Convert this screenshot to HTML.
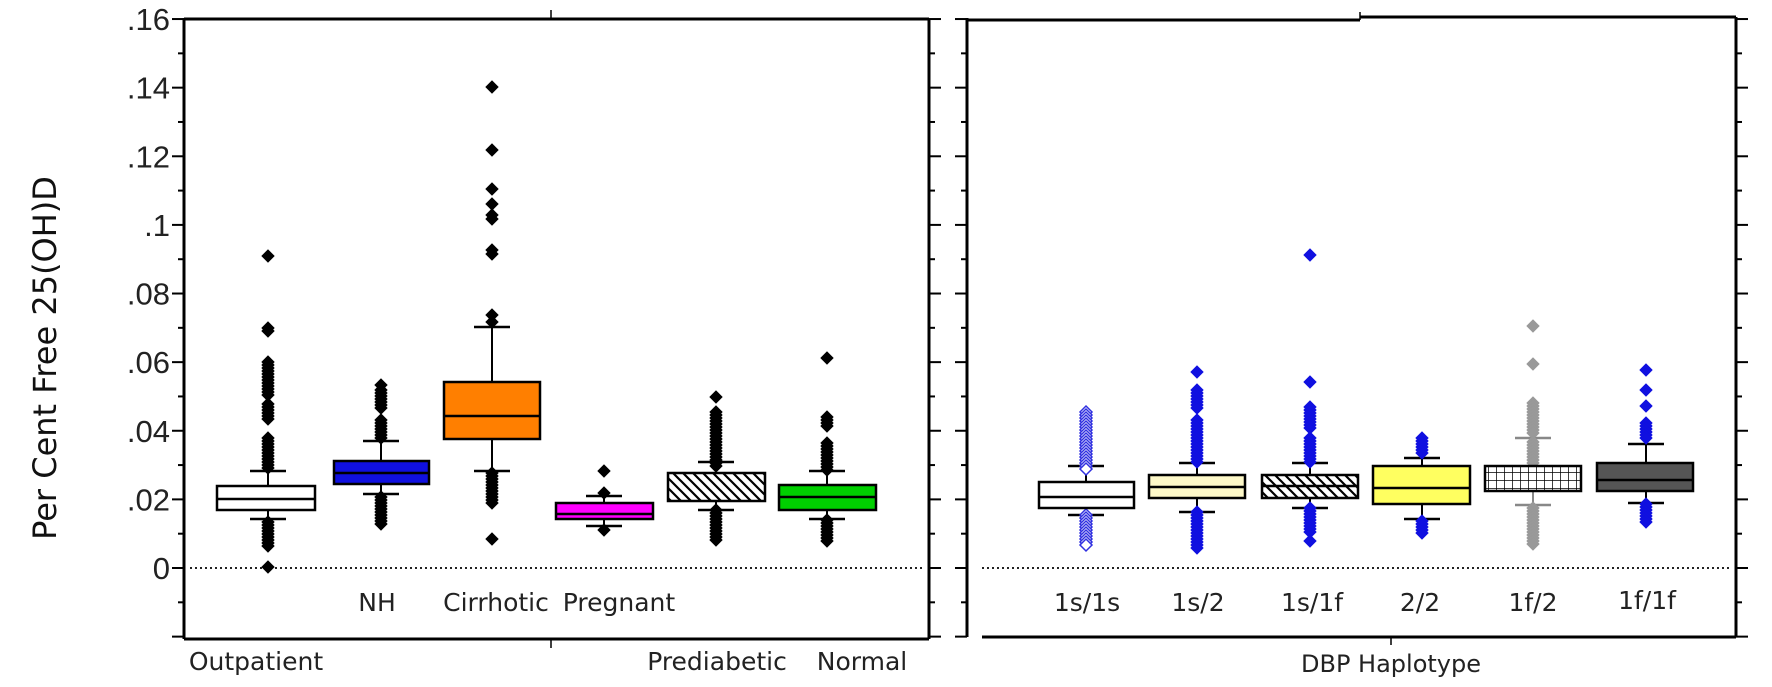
<!DOCTYPE html>
<html><head><meta charset="utf-8">
<style>
html,body{margin:0;padding:0;background:#fff;}
svg{display:block;}
</style></head><body>
<svg id="s" width="1772" height="687" xmlns="http://www.w3.org/2000/svg">
<defs>
<pattern id="diag" width="10" height="10" patternUnits="userSpaceOnUse">
<rect width="10" height="10" fill="#fff"/>
<path d="M0,0 L10,10 M-5,5 L5,15 M5,-5 L15,5" stroke="#000" stroke-width="2.2"/>
</pattern>
<pattern id="grid" width="8" height="8" patternUnits="userSpaceOnUse">
<rect width="8" height="8" fill="#fff"/>
<path d="M0,0 H8 M0,0 V8" stroke="#000" stroke-width="1.5"/>
</pattern>
</defs>
<g id="g"></g>
<text transform="translate(56,358) rotate(-90)" font-family="DejaVu Sans, sans-serif" font-size="32" text-anchor="middle" fill="#111">Per Cent Free 25(OH)D</text>
<g font-family="DejaVu Sans, sans-serif" font-size="25" fill="#222" text-anchor="middle">
<text x="377" y="611">NH</text>
<text x="496" y="611">Cirrhotic</text>
<text x="619" y="611">Pregnant</text>
<text x="256" y="670">Outpatient</text>
<text x="717" y="670">Prediabetic</text>
<text x="862" y="670">Normal</text>
<text x="1087" y="611">1s/1s</text>
<text x="1198" y="611">1s/2</text>
<text x="1312" y="611">1s/1f</text>
<text x="1420" y="611">2/2</text>
<text x="1533" y="611">1f/2</text>
<text x="1647" y="609">1f/1f</text>
<text x="1391" y="672" font-size="24">DBP Haplotype</text>
</g>
</svg>
<script>
var g=document.getElementById('g');var NS='http://www.w3.org/2000/svg';
function el(t,a){var e=document.createElementNS(NS,t);for(var k in a)e.setAttribute(k,a[k]);g.appendChild(e);return e;}
function line(x1,y1,x2,y2,w,c,d){var a={x1:x1,y1:y1,x2:x2,y2:y2,stroke:c||'#000','stroke-width':w||2};if(d)a['stroke-dasharray']=d;el('line',a);}
function Y(v){return 568-v*3431;}
var L0=184,R0=929,L1=967,R1=1736,TOP=19,BOT=639;
line(L0,TOP,R0,TOP,3);line(L0,TOP-1,L0,BOT,3);line(L0,BOT,R0,BOT,3);line(R0,TOP,R0,BOT,3);
line(551,TOP,551,10,1.5);line(551,BOT,551,648,1.5);
line(L1,TOP+1,1360,TOP+1,3);line(1360,TOP-2,R1,TOP-2,3);line(1360,12,1360,TOP+1,1.5);
line(L1,TOP-1,L1,BOT-2,3);line(982,BOT-2,R1,BOT-2,3);line(R1,TOP-2,R1,BOT-2,3);line(1391,BOT-2,1391,BOT+6,1.5);
var labs=['0','.02','.04','.06','.08','.1','.12','.14','.16'];
for(var i=-2;i<=16;i++){var y=Y(i*0.01);var maj=i%2==0;var L=maj?12:6;
 line(L0-L,y,L0,y,2);line(R0,y,R0+L,y,2);line(L1-L,y,L1,y,2);line(R1,y,R1+L,y,2);
 if(maj&&i>=0){var t=document.createElementNS(NS,'text');t.setAttribute('x',170);t.setAttribute('y',y+11);t.setAttribute('font-family','Liberation Sans, Arial, sans-serif');t.setAttribute('font-size','31');t.setAttribute('text-anchor','end');t.setAttribute('fill','#222');t.textContent=labs[i/2];document.getElementById('s').appendChild(t);}}
line(190,568,924,568,2,'#222','2,3');line(982,568,1730,568,2,'#222','2,3');
function dia(x,y,c,s,h){s=s||6;el('path',{d:'M'+x+','+(y-s)+'L'+(x+s)+','+y+'L'+x+','+(y+s)+'L'+(x-s)+','+y+'Z',fill:h?'#fff':c,stroke:c,'stroke-width':h?1.5:1});}
function run(x,a,b,c,h){for(var y=a;y<=b;y+=3)dia(x,y,c,6,h);}
function box(b){var c=b.oc||'#000';var wc=b.wc||'#000';
 line(b.c,b.wt,b.c,b.t,2,wc);line(b.c,b.b,b.c,b.wb,2,wc);line(b.c-18,b.wt,b.c+18,b.wt,2.5,wc);line(b.c-18,b.wb,b.c+18,b.wb,2.5,wc);
 (b.pts||[]).forEach(function(p){dia(b.c,p,c,6,b.h);});(b.runs||[]).forEach(function(r){run(b.c,r[0],r[1],c,b.h);});
 el('rect',{x:b.x1,y:b.t,width:b.x2-b.x1,height:b.b-b.t,fill:b.f,stroke:'#000','stroke-width':2.5});
 if(b.m)line(b.x1,b.m,b.x2,b.m,2.5,b.mc||'#000');}
var B=[
{x1:217,x2:315,c:268,t:486,b:510,m:499,wt:471,wb:519,f:'#fff',pts:[256,328,331,567],runs:[[362,395],[404,420],[438,470],[522,547]]},
{x1:334,x2:429,c:381,t:461,b:484,m:473,wt:441,wb:494,f:'#1010e0',pts:[385],runs:[[390,409],[420,438],[497,526]]},
{x1:444,x2:540,c:492,t:382,b:439,m:416,wt:327,wb:471,f:'#ff7f00',pts:[87,150,189,204,215,219,250,254,315,322,539],runs:[[473,504]]},
{x1:556,x2:653,c:604,t:503,b:519,m:514,wt:496,wb:526,f:'#ff00ff',pts:[471,493,530]},
{x1:668,x2:765,c:716,t:473,b:501,m:null,wt:462,wb:510,f:'url(#diag)',pts:[397],runs:[[412,467],[510,540]]},
{x1:779,x2:876,c:827,t:485,b:510,m:497,wt:471,wb:519,f:'#00d000',pts:[358],runs:[[417,427],[443,470],[520,542]]},
{x1:1039,x2:1134,c:1086,t:482,b:508,m:497,wt:466,wb:515,f:'#fff',oc:'#3030e0',h:1,runs:[[412,471],[515,545]]},
{x1:1149,x2:1245,c:1197,t:475,b:498,m:487,wt:463,wb:512,f:'#fdf8c8',oc:'#1010e0',pts:[372],runs:[[390,410],[420,464],[512,548]]},
{x1:1262,x2:1358,c:1310,t:475,b:498,m:486,wt:463,wb:508,f:'url(#diag)',oc:'#1010e0',pts:[255,382,541],runs:[[407,429],[438,464],[508,532]]},
{x1:1373,x2:1470,c:1422,t:466,b:504,m:488,wt:458,wb:519,f:'#ffff60',oc:'#1010e0',runs:[[438,455],[521,534]]},
{x1:1485,x2:1581,c:1533,t:466,b:491,m:null,wt:438,wb:505,f:'url(#grid)',oc:'#999',wc:'#888',pts:[326,364],runs:[[403,434],[442,464],[508,545]]},
{x1:1597,x2:1693,c:1646,t:463,b:491,m:480,wt:444,wb:503,f:'#555',oc:'#1010e0',pts:[370,390,406],runs:[[423,438],[504,523]]}
];
B.forEach(box);
</script>
</body></html>
